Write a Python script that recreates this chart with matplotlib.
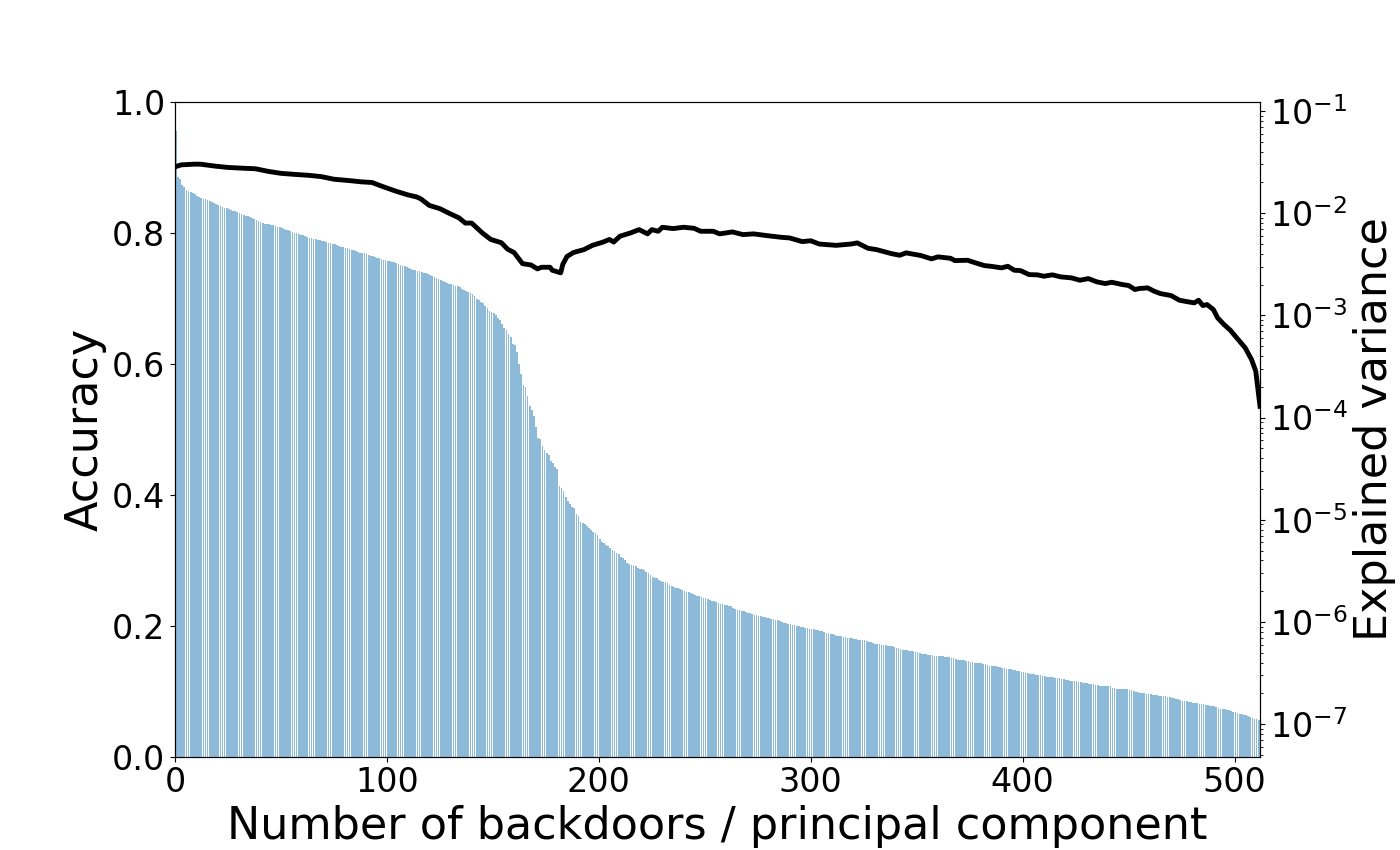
import numpy as np
import matplotlib
matplotlib.use("Agg")
import matplotlib.pyplot as plt

# Explained variance per principal component (log10 units)
ev_log10 = [
    -1.200, -1.642, -1.668, -1.720, -1.745, -1.770, -1.785, -1.796, -1.805, -1.815,
    -1.828, -1.840, -1.853, -1.858, -1.862, -1.866, -1.880, -1.892, -1.902, -1.913,
    -1.924, -1.932, -1.940, -1.945, -1.950, -1.958, -1.967, -1.975, -1.983, -1.990,
    -1.998, -2.008, -2.017, -2.026, -2.032, -2.039, -2.045, -2.056, -2.067, -2.078,
    -2.086, -2.095, -2.103, -2.107, -2.110, -2.113, -2.116, -2.124, -2.131, -2.138,
    -2.146, -2.153, -2.161, -2.168, -2.176, -2.183, -2.189, -2.196, -2.202, -2.210,
    -2.218, -2.225, -2.231, -2.238, -2.244, -2.250, -2.255, -2.259, -2.263, -2.270,
    -2.276, -2.282, -2.287, -2.292, -2.297, -2.306, -2.314, -2.323, -2.329, -2.334,
    -2.340, -2.345, -2.351, -2.356, -2.363, -2.371, -2.378, -2.385, -2.389, -2.394,
    -2.398, -2.406, -2.415, -2.423, -2.430, -2.436, -2.443, -2.449, -2.455, -2.460,
    -2.466, -2.471, -2.476, -2.481, -2.489, -2.497, -2.505, -2.513, -2.521, -2.528,
    -2.536, -2.543, -2.551, -2.557, -2.564, -2.570, -2.577, -2.583, -2.590, -2.596,
    -2.603, -2.614, -2.624, -2.635, -2.644, -2.653, -2.662, -2.672, -2.681, -2.688,
    -2.695, -2.701, -2.708, -2.715, -2.727, -2.739, -2.751, -2.763, -2.771, -2.780,
    -2.788, -2.814, -2.840, -2.853, -2.865, -2.878, -2.904, -2.930, -2.955, -2.968,
    -2.980, -2.993, -3.025, -3.045, -3.085, -3.121, -3.147, -3.179, -3.207, -3.275,
    -3.294, -3.363, -3.480, -3.578, -3.678, -3.705, -3.784, -3.884, -3.930, -3.989,
    -4.088, -4.204, -4.213, -4.281, -4.321, -4.351, -4.370, -4.429, -4.448, -4.487,
    -4.507, -4.665, -4.684, -4.722, -4.781, -4.812, -4.850, -4.879, -4.889, -4.946,
    -4.967, -5.025, -5.028, -5.045, -5.064, -5.084, -5.103, -5.123, -5.133, -5.152,
    -5.191, -5.221, -5.230, -5.250, -5.260, -5.280, -5.299, -5.309, -5.328, -5.338,
    -5.367, -5.377, -5.397, -5.426, -5.436, -5.446, -5.446, -5.456, -5.475, -5.484,
    -5.484, -5.495, -5.514, -5.524, -5.543, -5.563, -5.573, -5.573, -5.592, -5.602,
    -5.613, -5.613, -5.621, -5.641, -5.651, -5.661, -5.670, -5.670, -5.680, -5.690,
    -5.700, -5.710, -5.710, -5.719, -5.729, -5.739, -5.749, -5.749, -5.759, -5.768,
    -5.768, -5.778, -5.788, -5.798, -5.798, -5.807, -5.817, -5.827, -5.827, -5.837,
    -5.837, -5.846, -5.846, -5.866, -5.876, -5.885, -5.885, -5.896, -5.896, -5.905,
    -5.915, -5.915, -5.925, -5.935, -5.935, -5.944, -5.944, -5.954, -5.954, -5.964,
    -5.964, -5.974, -5.974, -5.983, -5.983, -5.993, -6.003, -6.013, -6.013, -6.022,
    -6.022, -6.032, -6.032, -6.042, -6.042, -6.052, -6.052, -6.061, -6.061, -6.071,
    -6.071, -6.071, -6.081, -6.081, -6.091, -6.091, -6.100, -6.110, -6.110, -6.120,
    -6.120, -6.130, -6.140, -6.140, -6.140, -6.149, -6.149, -6.159, -6.159, -6.159,
    -6.169, -6.169, -6.179, -6.179, -6.179, -6.179, -6.189, -6.199, -6.199, -6.208,
    -6.218, -6.218, -6.218, -6.227, -6.227, -6.227, -6.238, -6.238, -6.238, -6.244,
    -6.254, -6.254, -6.264, -6.273, -6.273, -6.273, -6.280, -6.280, -6.286, -6.289,
    -6.289, -6.299, -6.309, -6.309, -6.309, -6.319, -6.319, -6.319, -6.329, -6.329,
    -6.336, -6.336, -6.336, -6.345, -6.345, -6.345, -6.355, -6.355, -6.365, -6.375,
    -6.375, -6.375, -6.375, -6.384, -6.384, -6.394, -6.394, -6.404, -6.404, -6.404,
    -6.404, -6.414, -6.414, -6.423, -6.433, -6.433, -6.433, -6.433, -6.443, -6.443,
    -6.446, -6.446, -6.455, -6.455, -6.455, -6.466, -6.466, -6.475, -6.475, -6.485,
    -6.485, -6.495, -6.495, -6.505, -6.505, -6.505, -6.514, -6.514, -6.514, -6.528,
    -6.528, -6.534, -6.534, -6.534, -6.534, -6.544, -6.544, -6.544, -6.553, -6.553,
    -6.563, -6.563, -6.573, -6.573, -6.573, -6.573, -6.583, -6.583, -6.592, -6.592,
    -6.592, -6.602, -6.602, -6.602, -6.612, -6.612, -6.622, -6.622, -6.631, -6.631,
    -6.631, -6.631, -6.642, -6.642, -6.651, -6.658, -6.658, -6.658, -6.658, -6.658,
    -6.670, -6.670, -6.677, -6.687, -6.687, -6.697, -6.697, -6.697, -6.707, -6.707,
    -6.707, -6.717, -6.717, -6.717, -6.726, -6.726, -6.726, -6.726, -6.736, -6.736,
    -6.746, -6.746, -6.756, -6.756, -6.765, -6.775, -6.775, -6.775, -6.785, -6.785,
    -6.795, -6.795, -6.795, -6.805, -6.805, -6.805, -6.815, -6.815, -6.824, -6.824,
    -6.824, -6.834, -6.841, -6.850, -6.850, -6.850, -6.860, -6.860, -6.870, -6.880,
    -6.880, -6.889, -6.900, -6.900, -6.909, -6.909, -6.919, -6.932, -6.941, -6.952,
    -6.952, -6.961,
]
explained_variance = [10.0 ** v for v in ev_log10]
components = list(range(len(explained_variance)))

# Accuracy vs number of backdoors
n_backdoors = [
    0, 3, 9, 12, 19, 25, 31, 38, 44, 50, 56, 63, 69, 75, 82, 88, 93, 97, 104, 110,
    114, 116, 120, 123, 125, 130, 134, 137, 140, 145, 149, 154, 157, 160, 164, 168,
    171, 173, 177, 178, 182, 183, 185, 188, 193, 197, 202, 205, 207, 210, 215, 219,
    223, 225, 228, 230, 235, 240, 245, 248, 254, 257, 263, 268, 273, 279, 286, 290,
    296, 300, 304, 312, 319, 322, 327, 331, 338, 342, 345, 352, 357, 360, 366, 368,
    374, 377, 382, 385, 390, 393, 396, 399, 403, 407, 410, 414, 418, 423, 427, 431,
    435, 439, 442, 447, 450, 453, 455, 459, 462, 465, 470, 474, 478, 481, 483, 485,
    487, 490, 492, 495, 498, 501, 505, 508, 510, 512,
]
accuracy = [
    0.901, 0.904, 0.905, 0.905, 0.902, 0.900, 0.899, 0.898, 0.894, 0.891, 0.8895,
    0.888, 0.886, 0.882, 0.880, 0.878, 0.877, 0.872, 0.864, 0.858, 0.855, 0.852,
    0.842, 0.839, 0.837, 0.829, 0.823, 0.815, 0.815, 0.800, 0.790, 0.785, 0.775,
    0.770, 0.753, 0.751, 0.745, 0.7475, 0.7475, 0.743, 0.739, 0.752, 0.764, 0.770,
    0.7745, 0.781, 0.786, 0.790, 0.786, 0.795, 0.800, 0.805, 0.7985, 0.805, 0.8025,
    0.8086, 0.8066, 0.8086, 0.807, 0.8025, 0.8025, 0.7985, 0.8015, 0.7974, 0.7985,
    0.796, 0.7933, 0.7923, 0.7867, 0.788, 0.783, 0.781, 0.783, 0.7847, 0.7765,
    0.7745, 0.7684, 0.7658, 0.7695, 0.7654, 0.7603, 0.7634, 0.7612, 0.7577, 0.7582,
    0.755, 0.750, 0.749, 0.7466, 0.749, 0.743, 0.7424, 0.7363, 0.7359, 0.7338,
    0.7359, 0.7328, 0.7313, 0.7277, 0.7302, 0.7252, 0.7226, 0.7246, 0.7211, 0.7196,
    0.7135, 0.715, 0.716, 0.711, 0.7073, 0.7043, 0.6971, 0.6947, 0.6931, 0.6971,
    0.689, 0.6905, 0.6829, 0.6702, 0.660, 0.6513, 0.6397, 0.6244, 0.6066, 0.5887,
    0.535,
]

fig, ax1 = plt.subplots(figsize=(14, 8.5), dpi=100)
fig.subplots_adjust(left=0.125, right=0.9, bottom=0.11, top=0.88)
ax2 = ax1.twinx()

ax2.bar(components, explained_variance, width=0.8, align="edge",
        color="tab:blue", alpha=0.5)
ax2.set_yscale("log")
ax2.set_ylim(10 ** -7.316, 10 ** -0.912)
ax2.set_ylabel("Explained variance", fontsize=32)
ax2.tick_params(axis="y", labelsize=24)

ax1.plot(n_backdoors, accuracy, color="black", linewidth=3.5)
ax1.set_zorder(ax2.get_zorder() + 1)
ax1.patch.set_visible(False)
ax1.set_ylim(0, 1)
ax1.set_xlim(0, 512)
ax1.set_xticks([0, 100, 200, 300, 400, 500])
ax1.set_yticks([0.0, 0.2, 0.4, 0.6, 0.8, 1.0])
ax1.tick_params(axis="both", labelsize=24)
ax1.set_xlabel("Number of backdoors / principal component", fontsize=32)
ax1.set_ylabel("Accuracy", fontsize=32)

fig.savefig("out.png", dpi=100)
